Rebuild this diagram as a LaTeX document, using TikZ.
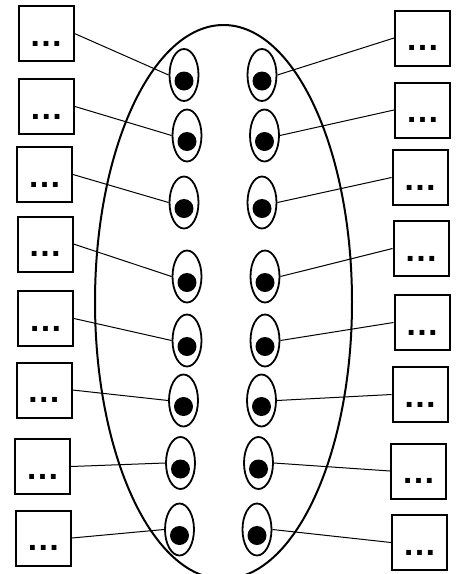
\documentclass[tikz,border=0pt]{standalone}
\usepackage{fontspec}
\setmainfont{Liberation Sans}
\usetikzlibrary{shapes.geometric}

\begin{document}
\begin{tikzpicture}[
  x=1pt, y=-1pt,
  slot/.style={draw, line width=2pt, fill=white, minimum width=55pt, minimum height=55pt, inner sep=0pt, text height=25pt, text depth=0pt, font=\bfseries\fontsize{34}{34}\selectfont},
  port/.style={draw, ellipse, line width=1.8pt, fill=white, minimum width=29pt, minimum height=52pt, inner sep=0pt},
  pin/.style={circle, fill=black, minimum size=19pt, inner sep=0pt},
  wire/.style={line width=1pt}
]
\clip (0,0) rectangle (464,574);
\useasboundingbox (0,0) rectangle (464,574);

% Outer body
\node[draw, ellipse, line width=2pt, minimum width=257pt, minimum height=554pt, inner sep=0pt] (body) at (223.5,302) {};

% Left ports
\node[port] (lp1) at (184,75) {};
\node[port] (lp2) at (187,135.5) {};
\node[port] (lp3) at (184,202.5) {};
\node[port] (lp4) at (187,276.5) {};
\node[port] (lp5) at (187,340.5) {};
\node[port] (lp6) at (183.5,400.5) {};
\node[port] (lp7) at (180.5,463) {};
\node[port] (lp8) at (179.5,529.5) {};

% Right ports
\node[port] (rp1) at (262,75) {};
\node[port] (rp2) at (264.5,135.5) {};
\node[port] (rp3) at (262,202.5) {};
\node[port] (rp4) at (265,276.5) {};
\node[port] (rp5) at (265,340.5) {};
\node[port] (rp6) at (261.5,400.5) {};
\node[port] (rp7) at (258.5,463) {};
\node[port] (rp8) at (257,529.5) {};

% Pins
\node[pin] (lpin1) at ([yshift=-6pt]lp1.center) {};
\node[pin] (lpin2) at ([yshift=-6pt]lp2.center) {};
\node[pin] (lpin3) at ([yshift=-6pt]lp3.center) {};
\node[pin] (lpin4) at ([yshift=-6pt]lp4.center) {};
\node[pin] (lpin5) at ([yshift=-6pt]lp5.center) {};
\node[pin] (lpin6) at ([yshift=-6pt]lp6.center) {};
\node[pin] (lpin7) at ([yshift=-6pt]lp7.center) {};
\node[pin] (lpin8) at ([yshift=-6pt]lp8.center) {};
\node[pin] (rpin1) at ([yshift=-6pt]rp1.center) {};
\node[pin] (rpin2) at ([yshift=-6pt]rp2.center) {};
\node[pin] (rpin3) at ([yshift=-6pt]rp3.center) {};
\node[pin] (rpin4) at ([yshift=-6pt]rp4.center) {};
\node[pin] (rpin5) at ([yshift=-6pt]rp5.center) {};
\node[pin] (rpin6) at ([yshift=-6pt]rp6.center) {};
\node[pin] (rpin7) at ([yshift=-6pt]rp7.center) {};
\node[pin] (rpin8) at ([yshift=-6pt]rp8.center) {};

% Left boxes
\node[slot] (lbox1) at (46,33.5) {…};
\node[slot] (lbox2) at (46.5,106.5) {…};
\node[slot] (lbox3) at (44.5,174.5) {…};
\node[slot] (lbox4) at (45,244) {…};
\node[slot] (lbox5) at (45.5,318.5) {…};
\node[slot] (lbox6) at (44,390) {…};
\node[slot] (lbox7) at (42.5,466.5) {…};
\node[slot] (lbox8) at (43.5,538) {…};

% Right boxes
\node[slot] (rbox1) at (422.5,38) {…};
\node[slot] (rbox2) at (422.5,110) {…};
\node[slot] (rbox3) at (420,177.5) {…};
\node[slot] (rbox4) at (421,248.5) {…};
\node[slot] (rbox5) at (422,322.5) {…};
\node[slot] (rbox6) at (420,394.5) {…};
\node[slot] (rbox7) at (418.5,471) {…};
\node[slot] (rbox8) at (419.5,542.5) {…};

% Wires
\draw[wire] (lbox1.east) -- (lp1.west);
\draw[wire] (lbox2.east) -- (lp2.west);
\draw[wire] (lbox3.east) -- (lp3.west);
\draw[wire] (lbox4.east) -- (lp4.west);
\draw[wire] (lbox5.east) -- (lp5.west);
\draw[wire] (lbox6.east) -- (lp6.west);
\draw[wire] (lbox7.east) -- (lp7.west);
\draw[wire] (lbox8.east) -- (lp8.west);
\draw[wire] (rp1.east) -- (rbox1.west);
\draw[wire] (rp2.east) -- (rbox2.west);
\draw[wire] (rp3.east) -- (rbox3.west);
\draw[wire] (rp4.east) -- (rbox4.west);
\draw[wire] (rp5.east) -- (rbox5.west);
\draw[wire] (rp6.east) -- (rbox6.west);
\draw[wire] (rp7.east) -- (rbox7.west);
\draw[wire] (rp8.east) -- (rbox8.west);
\end{tikzpicture}
\end{document}
